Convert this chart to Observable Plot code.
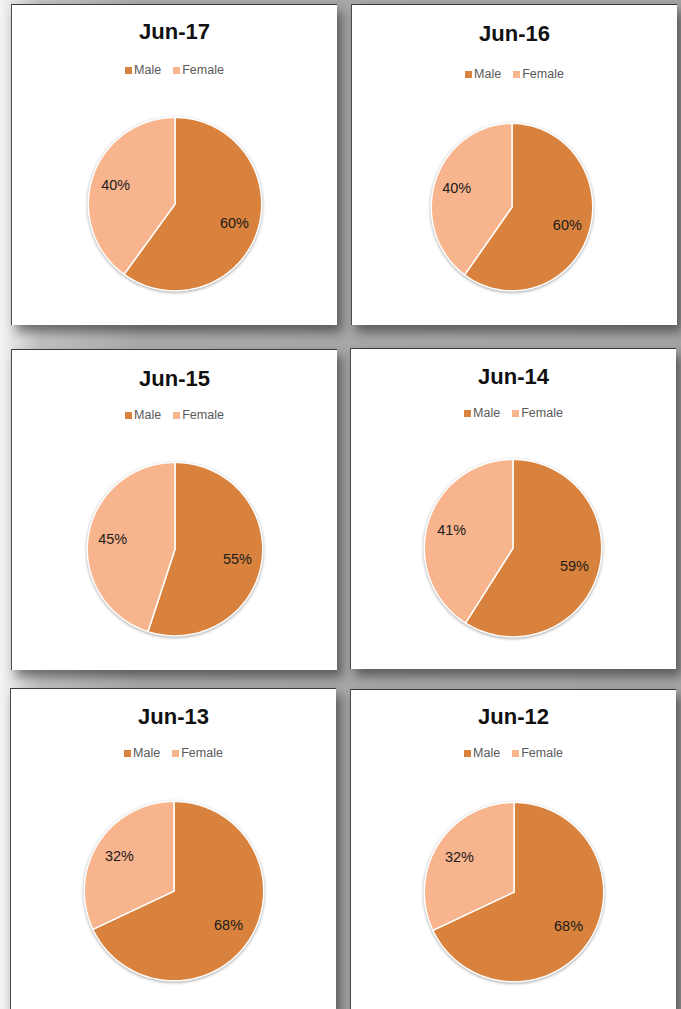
<!DOCTYPE html>
<html>
<head>
<meta charset="utf-8">
<script src="https://cdn.jsdelivr.net/npm/d3@7"></script>
<script src="https://cdn.jsdelivr.net/npm/@observablehq/plot@0.6"></script>
<style>
  html, body { margin: 0; padding: 0; }
  body {
    width: 681px; height: 1009px; overflow: hidden; position: relative;
    background: linear-gradient(to right, #f4f4f4 0px, #c0c0c0 40px, #a9a9a9 140px, #a3a3a3 681px);
    font-family: "Liberation Sans", Arial, sans-serif;
  }
  .panel {
    position: absolute; width: 326px; height: 321px; background: #fff;
    border-top: 1.5px solid #3a3a3a; border-left: 1px solid #4a4a4a; box-sizing: border-box;
    box-shadow: 5px 7px 10px rgba(0,0,0,0.45);
  }
  .title {
    position: absolute; left: 0; width: 100%; text-align: center;
    font: bold 22px "Liberation Sans", Arial, sans-serif; color: #111; line-height: 26px;
  }
  .legend {
    position: absolute; left: 0; width: 100%; display: flex; justify-content: center;
    height: 16px; align-items: center;
  }
  .legend > div {
    font: 12.5px "Liberation Sans", Arial, sans-serif !important; color: #595959;
    margin: 0 !important; min-height: 0 !important; justify-content: center;
  }
  .legend span { margin-right: 12px !important; }
  .legend span:last-child { margin-right: 0 !important; }
  .legend svg { margin-right: 2px !important; }
  .chart { position: absolute; left: 0; top: 90px; }
  .chart svg { overflow: visible; }
</style>
</head>
<body>
<script>
// ---- data ----
const periods = ["Jun-17", "Jun-16", "Jun-15", "Jun-14", "Jun-13", "Jun-12"];
const categories = ["Male", "Female"];
const maleShare = [60, 60, 55, 59, 68, 68];
const femaleShare = [40, 40, 45, 41, 32, 32];
const colors = ["#d8823d", "#f8b48d"];

// ---- layout (panel positions, pie centres / radii in panel px) ----
const layout = [
  {left: 11,  top: 4,   titleY: 27, legendY: 65, cx: 163, cy: 199, rx: 87, ry: 87},
  {left: 351, top: 4,   titleY: 29, legendY: 69, cx: 160, cy: 202, rx: 81, ry: 84},
  {left: 11,  top: 349, titleY: 29, legendY: 65, cx: 163, cy: 199, rx: 88, ry: 87},
  {left: 350, top: 348, titleY: 28, legendY: 64, cx: 162, cy: 199, rx: 89, ry: 89},
  {left: 10,  top: 688, titleY: 28, legendY: 64, cx: 163, cy: 202, rx: 90, ry: 90},
  {left: 350, top: 689, titleY: 27, legendY: 63, cx: 163, cy: 202, rx: 90, ry: 90}
];

const W = 326, H = 231, SVG_TOP = 90;

periods.forEach((period, i) => {
  const L = layout[i];
  const values = [maleShare[i], femaleShare[i]];
  const total = d3.sum(values);
  const arcs = d3.pie().sort(null).value(d => d)(values);

  // slice outlines (pie geometry derived from the values)
  const outline = [];
  const labels = [];
  arcs.forEach((a, k) => {
    const cat = categories[k];
    outline.push({cat, x: 0, y: 0});
    const steps = Math.max(2, Math.ceil((a.endAngle - a.startAngle) / (Math.PI / 180)));
    for (let s = 0; s <= steps; ++s) {
      const t = a.startAngle + (a.endAngle - a.startAngle) * s / steps;
      outline.push({cat, x: Math.sin(t), y: Math.cos(t)});
    }
    outline.push({cat, x: 0, y: 0});
    const mid = (a.startAngle + a.endAngle) / 2;
    labels.push({cat, x: 0.72 * Math.sin(mid), y: 0.72 * Math.cos(mid),
                 text: Math.round(100 * values[k] / total) + "%"});
  });

  const panel = document.createElement("div");
  panel.className = "panel";
  panel.style.left = L.left + "px";
  panel.style.top = L.top + "px";
  document.body.appendChild(panel);

  const title = document.createElement("div");
  title.className = "title";
  title.style.top = (L.titleY - 13) + "px";
  title.textContent = period;
  panel.appendChild(title);

  const cyS = L.cy - SVG_TOP;
  const chart = Plot.plot({
    width: W,
    height: H,
    marginLeft: L.cx - L.rx,
    marginRight: W - L.cx - L.rx,
    marginTop: cyS - L.ry,
    marginBottom: H - cyS - L.ry,
    x: {domain: [-1, 1], axis: null},
    y: {domain: [-1, 1], axis: null},
    color: {domain: categories, range: colors},
    style: {fontFamily: "'Liberation Sans', Arial, sans-serif", background: "transparent"},
    marks: [
      Plot.line(outline, {x: "x", y: "y", z: "cat", fill: "cat", stroke: "white",
                          strokeWidth: 1.5, strokeLinejoin: "round", curve: "linear"}),
      Plot.text(labels, {x: "x", y: "y", text: "text", fontSize: 14.5, fill: "#1b1b1b"})
    ]
  });
  const g = chart.querySelector('g[aria-label="line"]');
  if (g) g.style.filter = "drop-shadow(0.5px 1.5px 1.5px rgba(0,0,0,0.35))";

  const legendWrap = document.createElement("div");
  legendWrap.className = "legend";
  legendWrap.style.top = (L.legendY - 8) + "px";
  legendWrap.appendChild(chart.legend("color", {swatchSize: 7}));
  panel.appendChild(legendWrap);

  const holder = document.createElement("div");
  holder.className = "chart";
  holder.appendChild(chart);
  panel.appendChild(holder);
});
</script>
</body>
</html>
